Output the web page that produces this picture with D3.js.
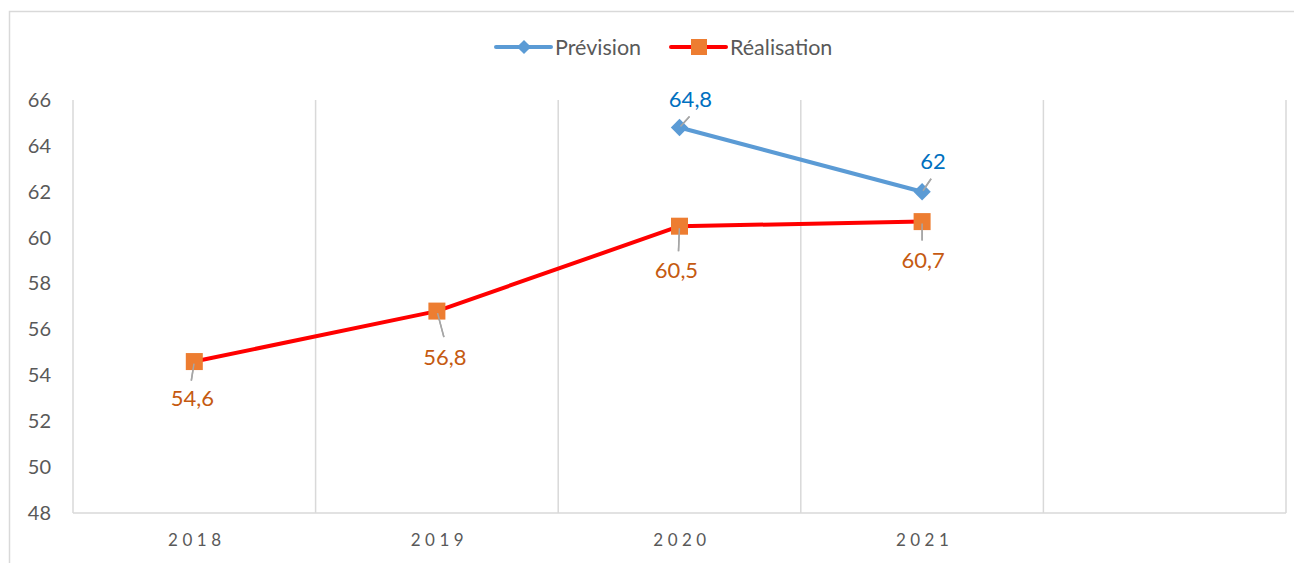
<!DOCTYPE html>
<html>
<head>
<meta charset="utf-8">
<script src="https://cdn.jsdelivr.net/npm/d3@7"></script>
<style>
  html, body { margin: 0; padding: 0; background: #fff; }
  svg { display: block; }
  text { font-family: Lato, "Open Sans", sans-serif; }
</style>
</head>
<body>
<svg id="chart" width="1294" height="563"></svg>
<script>
// Categories (fifth slot is an empty year column)
const categories = ["2018", "2019", "2020", "2021", ""];
const prevision = [null, null, 64.8, 62];
const realisation = [54.6, 56.8, 60.5, 60.7];
const yTicks = [48, 50, 52, 54, 56, 58, 60, 62, 64, 66];

const W = 1294, H = 563;
const svg = d3.select("#chart");

// Outer frame
svg.append("rect")
  .attr("x", 9.5).attr("y", 11.5)
  .attr("width", W + 10).attr("height", H + 10)
  .attr("fill", "none").attr("stroke", "#d9d9d9").attr("stroke-width", 1.5);

const x = d3.scaleBand().domain(categories.map((c, i) => i)).range([73, 1286]).paddingInner(0).paddingOuter(0);
const y = d3.scaleLinear().domain([48, 66]).range([513, 100]);
const cx = i => x(i) + x.bandwidth() / 2;

// Vertical gridlines at category boundaries
const bounds = d3.range(categories.length + 1).map(i => 73 + i * x.bandwidth());
svg.append("g").selectAll("line").data(bounds).join("line")
  .attr("x1", d => d).attr("x2", d => d)
  .attr("y1", y(66)).attr("y2", y(48))
  .attr("stroke", "#d9d9d9").attr("stroke-width", 1.5);

// Bottom axis line
svg.append("line")
  .attr("x1", 73).attr("x2", 1286).attr("y1", y(48)).attr("y2", y(48))
  .attr("stroke", "#d9d9d9").attr("stroke-width", 1.5);

// Y axis labels
const yAxis = d3.axisLeft(y).tickValues(yTicks).tickSize(0).tickPadding(0);
const gy = svg.append("g").attr("transform", "translate(51,0)").call(yAxis);
gy.select(".domain").remove();
gy.selectAll("text")
  .attr("fill", "#595959").style("font-size", "20px")
  .style("font-family", "Lato, sans-serif");

// X axis labels
const gx = svg.append("g").attr("transform", `translate(2,${y(48)})`)
  .call(d3.axisBottom(d3.scalePoint().domain(categories.map((c, i) => i)).range([cx(0), cx(4)]))
    .tickFormat(i => categories[i]).tickSize(0).tickPadding(21));
gx.select(".domain").remove();
gx.selectAll("text")
  .attr("fill", "#595959").style("font-size", "17px").style("letter-spacing", "4.5px");

// Lines
const line = d3.line().defined(d => d.v != null).x(d => cx(d.i)).y(d => y(d.v));
const prevData = prevision.map((v, i) => ({ i, v }));
const realData = realisation.map((v, i) => ({ i, v }));

svg.append("path").datum(realData).attr("d", line)
  .attr("fill", "none").attr("stroke", "#ff0000").attr("stroke-width", 4).attr("stroke-linejoin", "round");
svg.append("path").datum(prevData).attr("d", line)
  .attr("fill", "none").attr("stroke", "#5b9bd5").attr("stroke-width", 4).attr("stroke-linejoin", "round");

// Label placement: [text dx, text dy, leader end dx, leader end dy]
const realLabel = [[-2, 44, -3, 19], [8, 54, 7, 26], [-3, 52, -1, 25], [1, 46, 0, 19]];
const prevLabel = { 2: [11, -21, 10, -11], 3: [11, -23, 9, -13] };

const leaders = svg.append("g").attr("stroke", "#a6a6a6").attr("stroke-width", 1.5);
realData.forEach((d, k) => {
  const p = realLabel[k];
  leaders.append("line")
    .attr("x1", cx(d.i)).attr("y1", y(d.v))
    .attr("x2", cx(d.i) + p[2]).attr("y2", y(d.v) + p[3]);
});
prevData.filter(d => d.v != null).forEach(d => {
  const p = prevLabel[d.i];
  leaders.append("line")
    .attr("x1", cx(d.i)).attr("y1", y(d.v))
    .attr("x2", cx(d.i) + p[2]).attr("y2", y(d.v) + p[3]);
});

// Markers
svg.append("g").selectAll("rect").data(realData).join("rect")
  .attr("x", d => cx(d.i) - 8.5).attr("y", d => y(d.v) - 8.5)
  .attr("width", 17).attr("height", 17).attr("fill", "#ed7d31");
svg.append("g").selectAll("path").data(prevData.filter(d => d.v != null)).join("path")
  .attr("transform", d => `translate(${cx(d.i)},${y(d.v)}) rotate(45)`)
  .attr("d", d3.symbol().type(d3.symbolSquare).size(150))
  .attr("fill", "#5b9bd5");
// leader segment visible on top of the marker
realData.forEach((d, k) => {
  const p = realLabel[k];
  svg.append("line").attr("stroke", "#a6a6a6").attr("stroke-width", 1.5)
    .attr("x1", cx(d.i) + p[2] * 0.1).attr("y1", y(d.v) + 2)
    .attr("x2", cx(d.i) + p[2]).attr("y2", y(d.v) + p[3]);
});
prevData.filter(d => d.v != null).forEach(d => {
  const p = prevLabel[d.i];
  svg.append("line").attr("stroke", "#a6a6a6").attr("stroke-width", 1.5)
    .attr("x1", cx(d.i) + 1).attr("y1", y(d.v) - 1)
    .attr("x2", cx(d.i) + p[2]).attr("y2", y(d.v) + p[3]);
});

// Value labels
const fmt = v => String(v).replace(".", ",");
svg.append("g").selectAll("text").data(realData).join("text")
  .attr("x", (d, k) => cx(d.i) + realLabel[k][0])
  .attr("y", (d, k) => y(d.v) + realLabel[k][1])
  .attr("text-anchor", "middle").attr("fill", "#c55a11").style("font-size", "22px")
  .text(d => fmt(d.v));
svg.append("g").selectAll("text").data(prevData.filter(d => d.v != null)).join("text")
  .attr("x", d => cx(d.i) + prevLabel[d.i][0])
  .attr("y", d => y(d.v) + prevLabel[d.i][1])
  .attr("text-anchor", "middle").attr("fill", "#0070c0").style("font-size", "22px")
  .text(d => fmt(d.v));

// Legend
const legend = svg.append("g").attr("transform", "translate(0,47)");
const items = [
  { name: "Prévision", color: "#5b9bd5", marker: "diamond", x: 496 },
  { name: "Réalisation", color: "#ff0000", mcolor: "#ed7d31", marker: "square", x: 671 }
];
items.forEach(it => {
  const g = legend.append("g").attr("transform", `translate(${it.x},0)`);
  g.append("line").attr("x1", 0).attr("x2", 55).attr("y1", 0).attr("y2", 0)
    .attr("stroke", it.color).attr("stroke-width", 4).attr("stroke-linecap", "round");
  if (it.marker === "diamond") {
    g.append("path").attr("d", d3.symbol().type(d3.symbolSquare).size(100))
      .attr("transform", "translate(28,0) rotate(45)").attr("fill", it.color);
  } else {
    g.append("rect").attr("x", 20).attr("y", -8).attr("width", 16).attr("height", 16).attr("fill", it.mcolor);
  }
  g.append("text").attr("x", 59).attr("y", 7.5).attr("fill", "#595959").style("font-size", "21.5px").text(it.name);
});
</script>
</body>
</html>
